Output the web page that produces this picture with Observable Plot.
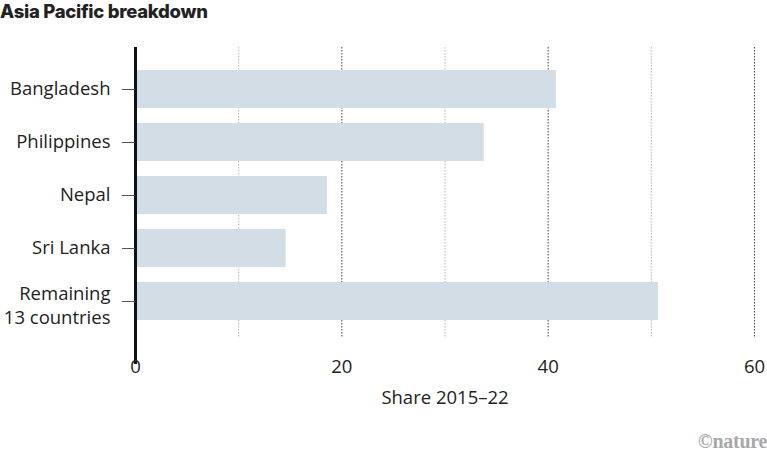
<!DOCTYPE html>
<html>
<head>
<meta charset="utf-8">
<script src="https://cdn.jsdelivr.net/npm/d3@7"></script>
<script src="https://cdn.jsdelivr.net/npm/@observablehq/plot@0.6"></script>
<style>
  html, body { margin: 0; padding: 0; background: #fff; }
  body { width: 767px; height: 460px; position: relative; overflow: hidden; font-family: "Open Sans", Roboto, sans-serif; }
  #title { position: absolute; left: 0; top: -1px; height: 30px; font-family: Inter, Roboto, sans-serif; font-weight: 800; font-size: 18.5px; line-height: 24px; color: #222; letter-spacing: -0.3px; }
  #chart { position: absolute; left: 0; top: 30px; }
  #logo { position: absolute; right: 0px; top: 430px; font-family: "Liberation Serif", "DejaVu Serif", serif; font-weight: bold; font-size: 20px; color: #a8a8a8; letter-spacing: -0.3px; }
</style>
</head>
<body>
<div id="title">Asia Pacific breakdown</div>
<div id="chart"></div>
<div id="logo">©nature</div>
<script>
const countries = ["Bangladesh", "Philippines", "Nepal", "Sri Lanka", "Remaining\n13 countries"];
const shares = [40.8, 33.8, 18.6, 14.6, 50.7];
const xTicks = [0, 20, 40, 60];
const majorGrid = [20, 40, 60];
const minorGrid = [10, 30, 50];
const axisTitle = "Share 2015–22";

const data = countries.map((c, i) => ({country: c, share: shares[i]}));
const multiLine = countries.filter(c => c.includes("\n"));

const plot = Plot.plot({
  width: 767,
  height: 400,
  marginLeft: 135,
  marginRight: 13,
  marginTop: 17,
  marginBottom: 93,
  style: {fontFamily: "'Open Sans', Roboto, sans-serif", fontSize: "18.5px", color: "#222", background: "#fff"},
  x: {domain: [0, 60]},
  y: {domain: countries, range: [38.5, 292.5], paddingInner: 15 / 54, paddingOuter: 0},
  marks: [
    Plot.ruleX(minorGrid, {stroke: "#b5b5b5", strokeWidth: 1, strokeDasharray: "1.5,1.5"}),
    Plot.ruleX(majorGrid, {stroke: "#444", strokeWidth: 1, strokeDasharray: "1.5,1.5"}),
    Plot.barX(data, {x: "share", y: "country", fill: "#d3dde5"}),
    Plot.ruleX([0], {stroke: "#111", strokeWidth: 3, insetBottom: -27}),
    Plot.axisX({ticks: xTicks, tickSize: 0, tickPadding: 22, label: axisTitle, labelAnchor: "center", labelArrow: "none", labelOffset: 66, fill: "#222", fontSize: 18.5}),
    Plot.axisY({tickSize: 13, tickPadding: 12, stroke: "#555", label: null, fill: "#222", fontSize: 18.5,
      tickFormat: d => d.includes("\n") ? "" : d}),
    Plot.axisY({ticks: multiLine, tickSize: 0, tickPadding: 25, label: null, fill: "#222", fontSize: 18.5, lineHeight: 1.28, dy: 3})
  ]
});
document.getElementById("chart").appendChild(plot);
</script>
</body>
</html>
